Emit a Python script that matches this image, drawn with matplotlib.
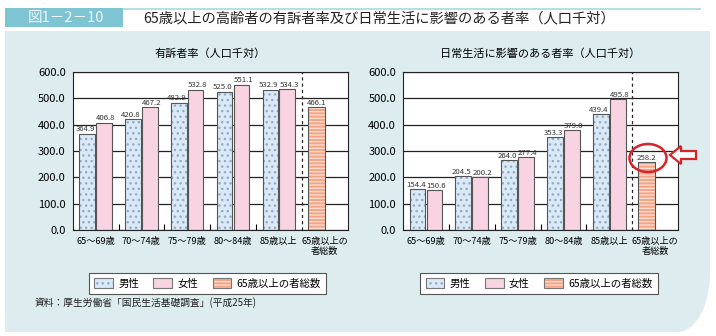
import matplotlib.pyplot as plt
import matplotlib.patches as mpatches
import numpy as np

plt.rcParams['font.family'] = ['Noto Sans CJK JP', 'DejaVu Sans']

W, H = 716, 336

# データ
categories = ["65～69歳", "70～74歳", "75～79歳", "80～84歳", "85歳以上", "65歳以上の\n者総数"]
complaint_male = [364.9, 420.8, 482.9, 525.0, 532.9]
complaint_female = [406.8, 467.2, 532.8, 551.1, 534.3]
complaint_total = 466.1
daily_male = [154.4, 204.5, 264.0, 353.3, 439.4]
daily_female = [150.6, 200.2, 277.4, 379.0, 495.8]
daily_total = 258.2
legend_labels = ["男性", "女性", "65歳以上の者総数"]

MALE_FC = "#dbe9f6"
MALE_DOT = "#8eaecb"
FEMALE_FC = "#f8d3e2"
TOTAL_FC = "#f5a486"
TOTAL_LINE = "#fcdccf"
EDGE = "#555555"
PANEL = "#dcecef"
TEAL = "#7ec4d3"


def px(x, y):
    # ピクセル座標 -> figure座標
    return (x / W, 1 - y / H)


def draw_bars(ax, x, heights, fc, hatch=None, hatch_color=None, width=0.34):
    if hatch:
        ax.bar(x, heights, width, color=fc, edgecolor=hatch_color, hatch=hatch,
               linewidth=0, zorder=2)
    else:
        ax.bar(x, heights, width, color=fc, linewidth=0, zorder=2)
    ax.bar(x, heights, width, fill=False, edgecolor=EDGE, linewidth=0.8, zorder=3)


def put_labels(ax, xs, ys, dx):
    for xv, yv in zip(xs, ys):
        ax.annotate(f"{yv:.1f}", (xv, yv), xytext=(dx, 0.3), textcoords="offset points",
                    ha="center", va="bottom", fontsize=5.6, color="#333333", zorder=4)


def draw_chart(ax, male, female, total, title):
    n = len(male)
    idx = np.arange(n)
    off = 0.185
    draw_bars(ax, idx - off, male, MALE_FC, "...", MALE_DOT)
    draw_bars(ax, idx + off, female, FEMALE_FC)
    draw_bars(ax, [n - off], [total], TOTAL_FC, "-----", TOTAL_LINE, width=0.37)

    put_labels(ax, idx - off, male, -1.3)
    put_labels(ax, idx + off, female, 1.3)
    put_labels(ax, [n - off], [total], 0)

    ax.axvline(n - 0.5, color="#222222", linewidth=0.9, linestyle=(0, (2.5, 2.5)), zorder=3)

    ax.set_xlim(-0.5, n + 0.5)
    ax.set_ylim(0, 600)
    ax.set_yticks(np.arange(0, 601, 100))
    ax.set_yticklabels([f"{v:.1f}" for v in np.arange(0, 601, 100)])
    ax.set_xticks(np.arange(n + 1))
    ax.set_xticklabels(categories)
    ax.set_xticks(np.arange(n - 1) + 0.5, minor=True)
    ax.tick_params(axis="x", which="major", length=0, pad=5, labelsize=6.6)
    ax.tick_params(axis="x", which="minor", direction="in", length=4, width=0.8)
    ax.tick_params(axis="y", length=0, pad=5, labelsize=8)
    ax.yaxis.grid(True, color="#222222", linewidth=0.9)
    ax.set_axisbelow(True)
    for s in ax.spines.values():
        s.set_linewidth(0.8)
        s.set_color("#222222")
    ax.set_facecolor("white")

    bb = ax.get_position()
    fig.text((bb.x0 + bb.x1) / 2, 1 - 54 / H, title, ha="center", va="center", fontsize=8)


fig = plt.figure(figsize=(W / 100, H / 100), dpi=100)
fig.patch.set_facecolor("white")

# 背景パネル (右下角丸)
verts = [px(5, 31), px(710, 31), px(710, 272)]
for t in np.linspace(0, np.pi / 2, 20):
    verts.append(px(678 + 32 * np.cos(t), 272 + 60 * np.sin(t)))
verts += [px(5, 332), px(5, 31)]
panel = mpatches.Polygon(verts, closed=True, transform=fig.transFigure,
                         facecolor=PANEL, edgecolor="none", zorder=-2)
fig.patches.append(panel)

# タイトル帯
fig.patches.append(mpatches.Rectangle(px(5, 27), 118 / W, 19 / H, transform=fig.transFigure,
                                      facecolor=TEAL, edgecolor="none", zorder=-1))
fig.lines.append(plt.Line2D([123 / W, 700 / W], [1 - 8.5 / H, 1 - 8.5 / H],
                            transform=fig.transFigure, color="#a9d8e2", linewidth=1.2,
                            zorder=-1))
fig.text(*px(66, 18), "図1－2－10", ha="center", va="center", fontsize=10.5, color="#eef8fa")
fig.text(*px(143, 18), "65歳以上の高齢者の有訴者率及び日常生活に影響のある者率（人口千対）",
         ha="left", va="center", fontsize=10.3, color="#222222")

ax1 = fig.add_axes([72.7 / W, 1 - 230 / H, 274.8 / W, 158 / H])
ax2 = fig.add_axes([403 / W, 1 - 230 / H, 275 / W, 158 / H])

draw_chart(ax1, complaint_male, complaint_female, complaint_total, "有訴者率（人口千対）")
draw_chart(ax2, daily_male, daily_female, daily_total, "日常生活に影響のある者率（人口千対）")

# 凡例
h_male = (mpatches.Patch(facecolor=MALE_FC, edgecolor=MALE_DOT, hatch="...", linewidth=0),
          mpatches.Patch(fill=False, edgecolor="#777777", linewidth=0.8))
h_female = mpatches.Patch(facecolor=FEMALE_FC, edgecolor="#777777", linewidth=0.8)
h_total = (mpatches.Patch(facecolor=TOTAL_FC, edgecolor=TOTAL_LINE, hatch="-----", linewidth=0),
           mpatches.Patch(fill=False, edgecolor="#777777", linewidth=0.8))
for cx in (207.5, 539):
    leg = fig.legend([h_male, h_female, h_total], legend_labels, loc="center",
                     bbox_to_anchor=px(cx, 283.5), ncol=3, fontsize=7.5,
                     handlelength=1.8, handleheight=1.0, columnspacing=1.4,
                     handletextpad=0.5, borderpad=0.5, fancybox=False, framealpha=1)
    leg.get_frame().set_edgecolor("#555555")
    leg.get_frame().set_linewidth(0.8)

# 注目マーク
fig.patches.append(mpatches.Ellipse(px(648, 158), 37 / W, 28 / H, transform=fig.transFigure,
                                    fill=False, edgecolor="#d8232a", linewidth=1.8, zorder=10))
arrow = [px(670, 155), px(681, 146), px(681, 151), px(696, 151), px(696, 159),
         px(681, 159), px(681, 164)]
fig.patches.append(mpatches.Polygon(arrow, closed=True, transform=fig.transFigure,
                                    facecolor="white", edgecolor="#d8232a", linewidth=1.6,
                                    zorder=10))

fig.text(*px(35, 303), "資料：厚生労働省「国民生活基礎調査」(平成25年)", ha="left", va="center",
         fontsize=7, color="#222222")

fig.savefig("out.png", dpi=100)
